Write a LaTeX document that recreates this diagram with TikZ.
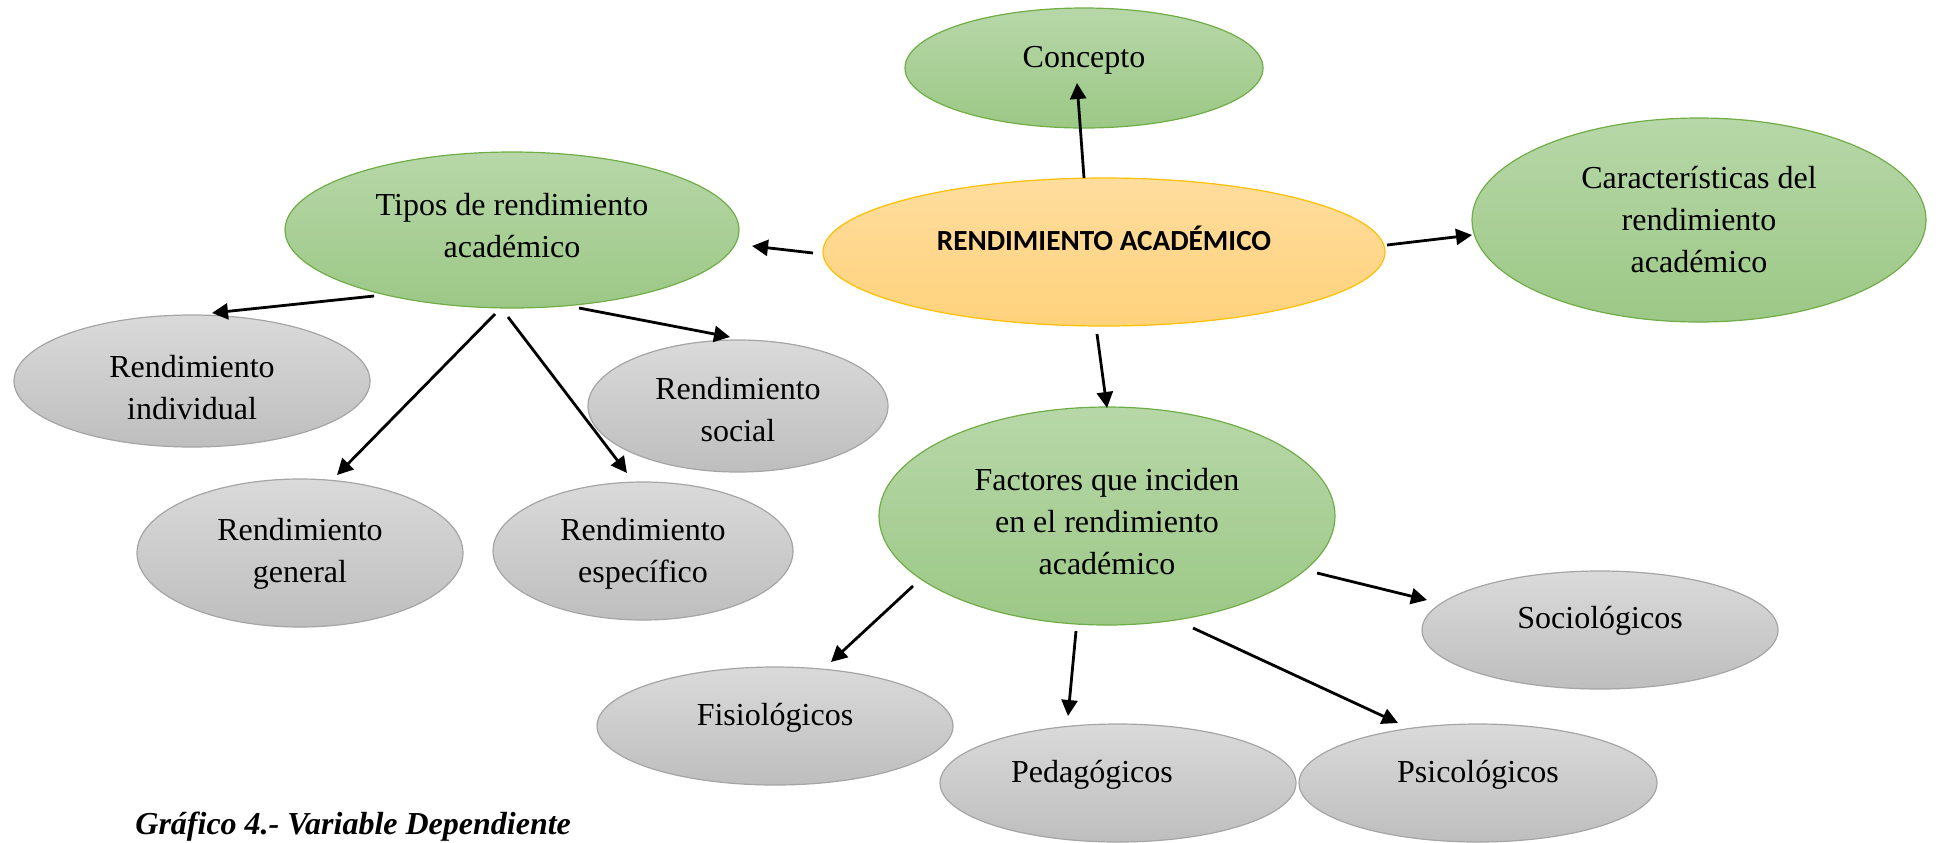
\documentclass[tikz,border=0pt]{standalone}
\usepackage{fontspec}
\setmainfont{Liberation Serif}
\newfontfamily\calib{Carlito}
\usetikzlibrary{shapes.geometric,arrows.meta,calc}
\definecolor{gtop}{RGB}{183,215,168}
\definecolor{gbot}{RGB}{156,200,134}
\definecolor{gbrd}{RGB}{112,173,71}
\definecolor{ytop}{RGB}{255,221,158}
\definecolor{ybot}{RGB}{255,210,124}
\definecolor{ybrd}{RGB}{255,192,0}
\definecolor{stop}{RGB}{218,218,218}
\definecolor{sbot}{RGB}{190,190,190}
\definecolor{sbrd}{RGB}{165,165,165}
\tikzset{
  ell/.style={ellipse, inner sep=0pt, line width=0.6pt},
  gre/.style={ell, draw=gbrd, top color=gtop, bottom color=gbot},
  gry/.style={ell, draw=sbrd, top color=stop, bottom color=sbot},
  yel/.style={ell, draw=ybrd, top color=ytop, bottom color=ybot},
  txt/.style={font=\fontsize{16pt}{21pt}\selectfont, align=center, inner sep=0pt},
  arr/.style={-{Triangle[length=8pt,width=8pt]}, line width=1.4pt, black}
}
\begin{document}
\begin{tikzpicture}[x=0.5pt,y=-0.5pt]
\useasboundingbox (0,0) rectangle (1936,842);
% ellipses
\node[gre, minimum width=179pt, minimum height=60pt] (concepto) at (1084,68) {};
\node[yel, minimum width=281pt, minimum height=74pt] (central) at (1104,252) {};
\node[gre, minimum width=227pt, minimum height=78pt] (tipos) at (512,230) {};
\node[gre, minimum width=227pt, minimum height=102pt] (caract) at (1699,220) {};
\node[gry, minimum width=178pt, minimum height=66pt] (indiv) at (192,381) {};
\node[gry, minimum width=150pt, minimum height=66pt] (social) at (738,406) {};
\node[gry, minimum width=163pt, minimum height=74pt] (general) at (300,553) {};
\node[gry, minimum width=150pt, minimum height=69pt] (espec) at (643,551) {};
\node[gre, minimum width=228pt, minimum height=109pt] (factores) at (1107,516) {};
\node[gry, minimum width=178pt, minimum height=59pt] (socio) at (1600,630) {};
\node[gry, minimum width=178pt, minimum height=59pt] (fisio) at (775,726) {};
\node[gry, minimum width=178pt, minimum height=59pt] (pedag) at (1118,783) {};
\node[gry, minimum width=179pt, minimum height=59pt] (psico) at (1478,783) {};
% texts
\node[txt] (tconcepto) at ($(concepto.center)+(0,-8)$) {Concepto};
\node[inner sep=0pt, font=\calib\bfseries\fontsize{14.6pt}{17pt}\selectfont] (tcentral) at ($(central.center)+(0,-14)$) {RENDIMIENTO ACADÉMICO};
\node[txt] (ttipos) at ($(tipos.center)+(0,-4)$) {Tipos de rendimiento\\académico};
\node[txt] (tcaract) at ($(caract.center)+(0,0)$) {Características del\\rendimiento\\académico};
\node[txt] (tindiv) at ($(indiv.center)+(0,7)$) {Rendimiento\\individual};
\node[txt] (tsocial) at ($(social.center)+(0,4)$) {Rendimiento\\social};
\node[txt] (tgeneral) at ($(general.center)+(0,1)$) {Rendimiento\\general};
\node[txt] (tespec) at ($(espec.center)+(0,3)$) {Rendimiento\\específico};
\node[txt] (tfactores) at ($(factores.center)+(0,6)$) {Factores que inciden\\en el rendimiento\\académico};
\node[txt] (tsocio) at ($(socio.center)+(0,-9)$) {Sociológicos};
\node[txt] (tfisio) at ($(fisio.center)+(0,-8)$) {Fisiológicos};
\node[txt] (tpedag) at ($(pedag.center)+(-26,-8)$) {Pedagógicos};
\node[txt] (tpsico) at ($(psico.center)+(0,-8)$) {Psicológicos};
% arrows
\draw[arr] ($(central.center)+(-20,-74)$) -- ($(concepto.center)+(-7,15)$);
\draw[arr] ($(central.center)+(-291,1)$) -- ($(tipos.center)+(240,16)$);
\draw[arr] ($(central.center)+(283,-7)$) -- ($(caract.center)+(-227,15)$);
\draw[arr] ($(central.center)+(-7,82)$) -- ($(factores.center)+(0,-108)$);
\draw[arr] ($(tipos.center)+(-138,66)$) -- ($(indiv.center)+(20,-68)$);
\draw[arr] ($(tipos.center)+(-17,84)$) -- ($(general.center)+(37,-78)$);
\draw[arr] ($(tipos.center)+(-4,87)$) -- ($(espec.center)+(-16,-78)$);
\draw[arr] ($(tipos.center)+(67,78)$) -- ($(social.center)+(-8,-69)$);
\draw[arr] ($(factores.center)+(-194,70)$) -- ($(fisio.center)+(56,-64)$);
\draw[arr] ($(factores.center)+(-31,115)$) -- ($(pedag.center)+(-50,-67)$);
\draw[arr] ($(factores.center)+(86,112)$) -- ($(psico.center)+(-80,-60)$);
\draw[arr] ($(factores.center)+(210,57)$) -- ($(socio.center)+(-173,-30)$);
% caption
\node[anchor=base west, inner sep=0pt, font=\fontsize{16pt}{19pt}\selectfont\bfseries\itshape] (caption) at (135,834) {Gráfico 4.- Variable Dependiente};
\end{tikzpicture}
\end{document}
